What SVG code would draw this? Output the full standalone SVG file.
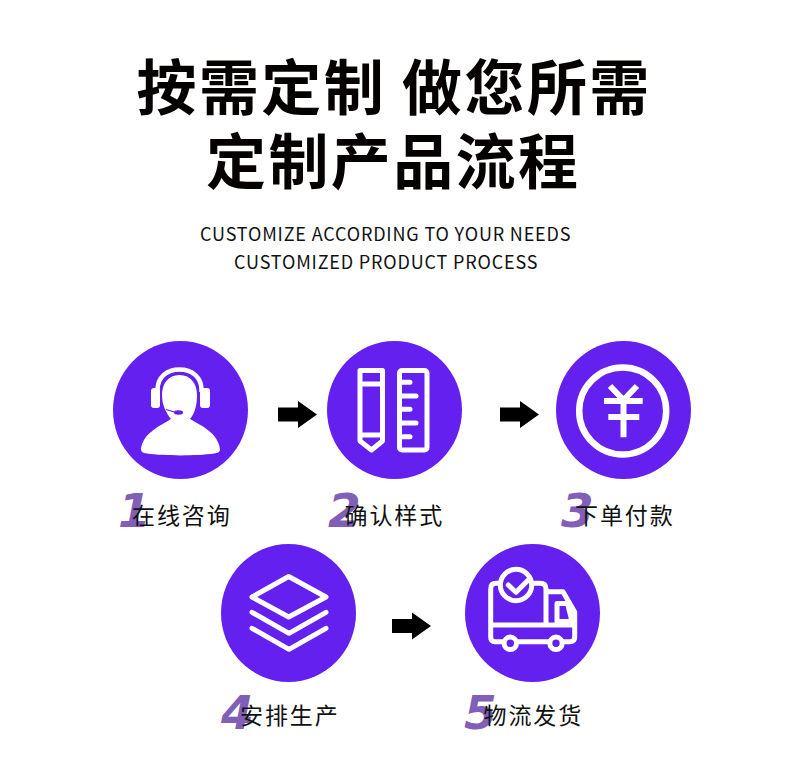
<svg xmlns="http://www.w3.org/2000/svg" width="790" height="765" viewBox="0 0 790 765">
<style>
text{font-family:"Noto Sans CJK SC","Noto Sans",sans-serif}
.t{font-size:60px;font-weight:700;letter-spacing:2.400px;fill:#050101}
.s{font-size:18px;font-weight:400;letter-spacing:.83px;fill:#111}
.l{font-size:23px;font-weight:400;letter-spacing:1.900px;fill:#111}
.n{font-family:"DejaVu Sans",sans-serif;font-size:47px;font-weight:700;font-style:italic;fill:#7f5fb8}
.c{fill:#6320ee}
.w{fill:none;stroke:#fff;stroke-width:5;stroke-linecap:round;stroke-linejoin:round}
</style>
<defs><path id="arrow" d="M0-7H20V-13.500L39 0 20 13.500V7H0Z" fill="#000"/></defs>
<rect width="790" height="765" fill="#fff"/>
<g id="title">
<text class="t" x="136.500" y="110">按需定制 做您所需</text>
<text class="t" x="206" y="184">定制产品流程</text>
<text class="s" x="200" y="241">CUSTOMIZE ACCORDING TO YOUR NEEDS</text>
<text class="s" x="234" y="269">CUSTOMIZED PRODUCT PROCESS</text>
</g>
<g id="connectors">
<use href="#arrow" x="278" y="414.500"/>
<use href="#arrow" x="500" y="414.500"/>
<use href="#arrow" x="392" y="626"/>
</g>
<g id="node-1">
<ellipse class="c" cx="180.500" cy="410" rx="67.500" ry="69"/>
<path d="M157.500 392V390C157.500 377 167 369.500 179.500 369.500S201.500 377 201.500 390V392" fill="none" stroke="#fff" stroke-width="4.500"/>
<rect x="151" y="388" width="9" height="20" rx="3" fill="#fff"/>
<rect x="200" y="388" width="10" height="20" rx="3" fill="#fff"/>
<path d="M179.500 375C168 375 162 384 162 395C162 406 167 414 171 419C160 426 143 433 141 449C141 452 143 453 147 453.500C165 456 196 456 214 453.500C218 453 220 452 220 449C218 433 202 426 190 419C195 413 197 405 197 395C197 384 191 375 179.500 375Z" fill="#fff"/>
<path d="M166 409.500L176 412.500" stroke="#6320ee" stroke-width="1.300" fill="none"/>
<ellipse cx="178.500" cy="412.500" rx="4.500" ry="2.200" fill="#6320ee"/>
<text class="n" x="118" y="527">1</text>
<text class="l" x="132" y="524">在线咨询</text>
</g>
<g id="node-2">
<ellipse class="c" cx="394.500" cy="410" rx="67.500" ry="69"/>
<path class="w" d="M360 370.500H382.500V441L371.500 450 360 441ZM360 384H382.500M360 435H382.500"/>
<rect class="w" x="399.500" y="370.500" width="27.500" height="79.500" rx="2.500"/>
<path class="w" d="M399.500 382.300H410M399.500 396H416M399.500 409.300H410M399.500 423H416M399.500 436.700H410"/>
<text class="n" x="328" y="527">2</text>
<text class="l" x="344.500" y="524">确认样式</text>
</g>
<g id="node-3">
<ellipse class="c" cx="623.500" cy="410" rx="67.500" ry="69"/>
<circle cx="622.700" cy="411" r="43.500" fill="none" stroke="#fff" stroke-width="6.500"/>
<path d="M610 386L623.500 400L637 386M604 401H642.700M608.300 417H639.300M623.500 400V437.300" fill="none" stroke="#fff" stroke-width="6"/>
<text class="n" x="561" y="527">3</text>
<text class="l" x="575" y="524">下单付款</text>
</g>
<g id="node-4">
<ellipse class="c" cx="288.500" cy="613" rx="67.500" ry="69"/>
<path class="w" d="M252 597L288.700 576.500 326 597 288.700 617Z"/>
<path class="w" d="M252 612.300L289 633.300 326 612.300M252 628.300L289 649.300 326 628.300"/>
<text class="n" x="221" y="729">4</text>
<text class="l" x="240" y="724">安排生产</text>
</g>
<g id="node-5">
<ellipse class="c" cx="532.500" cy="613" rx="67.500" ry="69"/>
<path class="w" d="M546 625V589Q546 583.300 540 583.300H496Q490.700 583.300 490.700 589V637Q490.700 641.700 495 641.700H570Q574.700 641.700 574.700 637V612L563 591.700H546M490.700 625H574.700"/>
<path class="w" d="M557 603.500H567.500L572 621.500H557Z"/>
<circle cx="516" cy="585" r="15.700" fill="#6320ee" stroke="#fff" stroke-width="5"/>
<path class="w" d="M508.300 585L516 592.300 528.300 580"/>
<circle cx="510.300" cy="643.300" r="6.200" fill="#6320ee" stroke="#fff" stroke-width="5"/>
<circle cx="556" cy="643.300" r="6.200" fill="#6320ee" stroke="#fff" stroke-width="5"/>
<text class="n" x="464" y="729">5</text>
<text class="l" x="483.500" y="724">物流发货</text>
</g>
</svg>
